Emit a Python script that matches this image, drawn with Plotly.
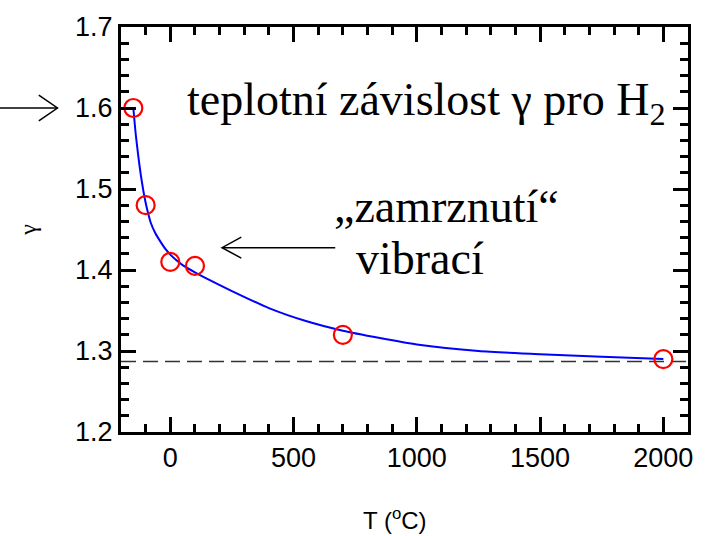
import plotly.graph_objects as go

# measured data points
T_data = [-150, -100, 0, 100, 700, 2000]
g_data = [1.60, 1.48, 1.41, 1.405, 1.32, 1.29]

# fitted curve
T_curve = [-150, -140, -130, -120, -110, -100, -90, -80, -60, -40, -20, 0, 25, 50, 100, 150, 250, 400, 550, 700, 850, 1000, 1250, 1500, 1750, 2000]
g_curve = [1.600, 1.567, 1.541, 1.518, 1.499, 1.483, 1.470, 1.459, 1.445, 1.435, 1.426, 1.419, 1.412, 1.406, 1.397, 1.389, 1.374, 1.353, 1.337, 1.325, 1.316, 1.308, 1.300, 1.296, 1.293, 1.290]

# classical limit (dashed)
g_limit = 1.287
x_range = [-200, 2100]
y_range = [1.2, 1.7]

fig = go.Figure()
fig.add_trace(go.Scatter(x=x_range, y=[g_limit, g_limit], mode="lines",
                         line=dict(color="#333333", width=1.5, dash="15px,7px"),
                         showlegend=False, hoverinfo="skip"))
fig.add_trace(go.Scatter(x=T_curve, y=g_curve, mode="lines",
                         line=dict(color="#0000ff", width=2, shape="spline", smoothing=0.6),
                         showlegend=False))
fig.add_trace(go.Scatter(x=T_data, y=g_data, mode="markers",
                         marker=dict(symbol="circle-open", size=18, color="#ff0000",
                                     line=dict(width=2.2, color="#ff0000")),
                         showlegend=False))

tickfont = dict(family="Liberation Sans, Arial", size=27, color="black")

fig.update_xaxes(range=x_range, tickvals=[0, 500, 1000, 1500, 2000],
                 showline=True, linecolor="black", linewidth=3, mirror="allticks",
                 ticks="inside", ticklen=15, tickwidth=2.5, tickcolor="black",
                 minor=dict(ticks="inside", ticklen=8, tickwidth=2.5, tickcolor="black", dtick=100, tick0=0),
                 showgrid=False, zeroline=False, tickfont=tickfont)
fig.update_yaxes(range=y_range, dtick=0.1, tick0=1.2, tickformat=".1f",
                 showline=True, linecolor="black", linewidth=3, mirror="allticks",
                 ticks="inside", ticklen=15, tickwidth=2.5, tickcolor="black",
                 minor=dict(ticks="inside", ticklen=8, tickwidth=2.5, tickcolor="black", dtick=0.02, tick0=1.2),
                 showgrid=False, zeroline=False, tickfont=tickfont,
                 title=dict(text="γ", font=dict(family="Liberation Serif, Times New Roman", size=24, color="black"),
                            standoff=32))

fig.add_annotation(x=0.4825, y=-0.2155, xref="paper", yref="paper", xanchor="center", yanchor="middle",
                   text="T (<sup>o</sup>C)", showarrow=False,
                   font=dict(family="Liberation Sans, Arial", size=24, color="black"))

serif = dict(family="Liberation Serif, Times New Roman", size=46, color="black")
fig.add_annotation(x=58, y=1.606, xref="x", yref="y", xanchor="left", yanchor="middle",
                   text="teplotní závislost γ pro H<sub>2</sub>", showarrow=False, font=serif)
fig.add_annotation(x=655, y=1.478, xref="x", yref="y", xanchor="left", yanchor="middle",
                   text="„zamrznutí“", showarrow=False, font=serif)
fig.add_annotation(x=744, y=1.414, xref="x", yref="y", xanchor="left", yanchor="middle",
                   text="vibrací", showarrow=False, font=serif)

# open-headed arrows drawn as line paths
arrow_line = dict(color="black", width=1.5)
ax0, ax1, ay = 669, 210, 1.4276
fig.add_shape(type="line", x0=ax0, x1=ax1, y0=ay, y1=ay, xref="x", yref="y", line=arrow_line)
fig.add_shape(type="path", xref="x", yref="y", line=arrow_line,
              path=f"M {ax1+78},{ay+0.013} L {ax1},{ay} L {ax1+78},{ay-0.013}")
fig.add_shape(type="line", xref="paper", yref="y", x0=-0.215, x1=-0.112, y0=1.6, y1=1.6, line=arrow_line)
fig.add_shape(type="path", xref="paper", yref="y", line=arrow_line,
              path=f"M {-0.145},{1.616} L {-0.112},{1.6} L {-0.145},{1.584}")

fig.update_layout(width=705, height=536, margin=dict(l=121, r=12, t=19, b=104),
                  paper_bgcolor="white", plot_bgcolor="white", showlegend=False)
fig.write_html("out.html")
